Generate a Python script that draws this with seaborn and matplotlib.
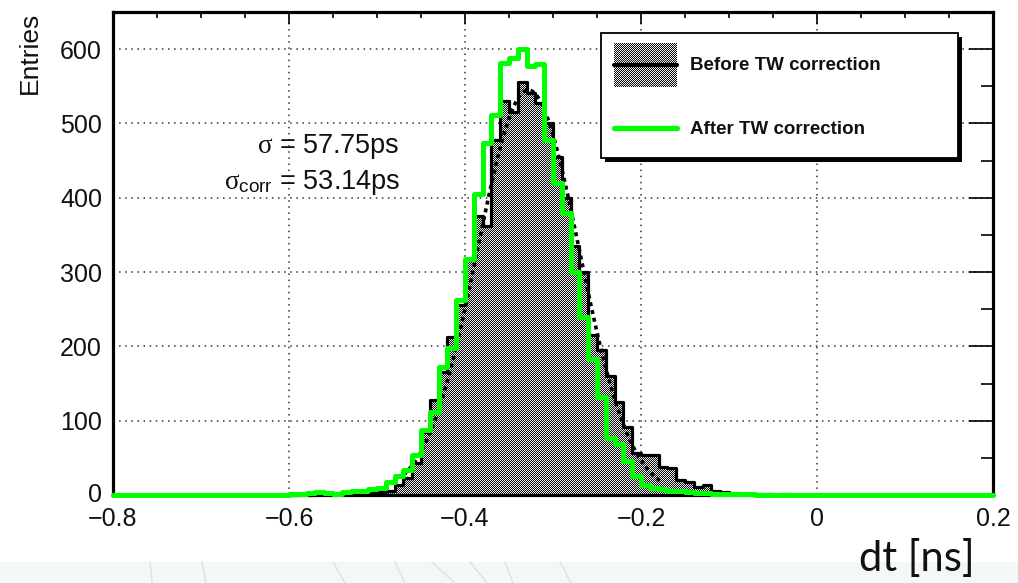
import numpy as np
import pandas as pd
import matplotlib
matplotlib.use("Agg")
import matplotlib.pyplot as plt
import matplotlib.transforms as mtransforms
import seaborn as sns
from matplotlib.colors import ListedColormap
from matplotlib.patches import Rectangle
from matplotlib.lines import Line2D
from matplotlib.ticker import MultipleLocator

# ---------------------------------------------------------------------------
# Time difference histograms, 100 bins of 10 ps between -0.8 and 0.2 ns
# ---------------------------------------------------------------------------
bin_edges = [round(v, 3) for v in np.linspace(-0.8, 0.2, 101)]
bin_centers = np.round((np.array(bin_edges[:-1]) + np.array(bin_edges[1:])) / 2, 4)

counts_before = [
    0, 0, 0, 0, 0, 0, 0, 0, 0, 0,
    0, 0, 0, 0, 0, 0, 0, 0, 0, 0,
    0, 1, 0, 1, 1, 2, 2, 3, 3, 3,
    4, 6, 13, 23, 43, 85, 128, 165, 212, 256,
    316, 375, 362, 478, 530, 516, 556, 541, 527, 500,
    455, 400, 335, 300, 215, 195, 160, 125, 92, 56,
    54, 54, 38, 36, 20, 18, 11, 14, 6, 4,
    3, 2, 1, 1, 1, 0, 1, 0, 0, 0,
    0, 0, 0, 0, 0, 0, 0, 0, 0, 0,
    0, 0, 0, 0, 0, 0, 0, 0, 0, 0,
]

counts_after = [
    0, 0, 0, 0, 0, 0, 0, 0, 0, 0,
    0, 0, 0, 0, 0, 0, 0, 0, 0, 0,
    1, 1, 3, 4, 3, 2, 4, 5, 6, 8,
    10, 17, 25, 33, 54, 87, 112, 172, 198, 262,
    318, 405, 474, 511, 582, 588, 600, 578, 580, 478,
    420, 380, 300, 240, 183, 132, 77, 68, 46, 25,
    14, 10, 8, 6, 5, 4, 3, 3, 2, 1,
    1, 1, 1, 0, 0, 0, 0, 0, 0, 0,
    0, 0, 0, 0, 0, 0, 0, 0, 0, 0,
    0, 0, 0, 0, 0, 0, 0, 0, 0, 0,
]

# Gaussian fit of the uncorrected distribution
sigma_before_ps = 57.75
sigma_after_ps = 53.14
fit_mean = -0.328
fit_amp = 545.0
fit_range = (-0.47, -0.175)

x_ticks = [-0.8, -0.6, -0.4, -0.2, 0.0, 0.2]
x_tick_labels = ["\u22120.8", "\u22120.6", "\u22120.4", "\u22120.2", "0", "0.2"]
y_ticks = [0, 100, 200, 300, 400, 500, 600]
y_tick_labels = ["0", "100", "200", "300", "400", "500", "600"]
legend_labels = ["Before TW correction", "After TW correction"]

# ---------------------------------------------------------------------------
sns.set_theme(style="white")
plt.rcParams["font.family"] = ["Liberation Sans", "DejaVu Sans"]
plt.rcParams["mathtext.fontset"] = "custom"
plt.rcParams["mathtext.rm"] = "Liberation Sans"
plt.rcParams["mathtext.it"] = "Liberation Serif"
plt.rcParams["axes.unicode_minus"] = True

W, H = 1018, 583
fig = plt.figure(figsize=(W / 100, H / 100), dpi=100)
fig.patch.set_facecolor("white")


def fx(x):
    return x / W


def fy(y):
    return 1 - y / H


ax = fig.add_axes([fx(113), fy(495), 880 / W, 483 / H])
ax.set_facecolor("white")

df_before = pd.DataFrame({"dt": bin_centers, "n": counts_before})
df_after = pd.DataFrame({"dt": bin_centers, "n": counts_after})

# Filled area of the uncorrected histogram, used as clip region for the
# checkered fill pattern
sns.histplot(data=df_before, x="dt", weights="n", bins=bin_edges,
             element="step", fill=True, linewidth=0, alpha=1,
             color="gray", ax=ax)
poly = ax.collections[-1]
fill_path = poly.get_paths()[0]
fill_trans = poly.get_transform()
poly.remove()

ny, nx = 483, 880
yy, xx = np.mgrid[0:ny, 0:nx]
checker = (xx + yy) % 2
im = ax.imshow(checker, extent=(-0.8, 0.2, 0, 650), origin="lower",
               aspect="auto", interpolation="nearest",
               cmap=ListedColormap(["#0c0c0c", "#eeeeee"]), zorder=1.5)
im.set_clip_path(fill_path, transform=fill_trans)

# Step outlines
sns.histplot(data=df_before, x="dt", weights="n", bins=bin_edges,
             element="step", fill=False, color="black", linewidth=2.3,
             ax=ax, zorder=3, clip_on=False)

xf = np.linspace(fit_range[0], fit_range[1], 400)
yf = fit_amp * np.exp(-0.5 * ((xf - fit_mean) / (sigma_before_ps / 1000)) ** 2)
ax.plot(xf, yf, color="black", linewidth=2.6, linestyle=(0, (1.1, 1.1)),
        zorder=4)

sns.histplot(data=df_after, x="dt", weights="n", bins=bin_edges,
             element="step", fill=False, color="#00ff00", linewidth=3.6,
             ax=ax, zorder=7, clip_on=False)

# Axes, ticks and grid
ax.set_xlim(-0.8, 0.2)
ax.set_ylim(0, 650)
ax.set_xticks(x_ticks, x_tick_labels)
ax.set_yticks(y_ticks, y_tick_labels)
ax.xaxis.set_minor_locator(MultipleLocator(0.05))
ax.yaxis.set_minor_locator(MultipleLocator(50))
ax.grid(True, which="major", color="#333333", linestyle=(0, (1, 3)),
        linewidth=1.1, zorder=0)
ax.set_axisbelow(True)
ax.set_xlabel("")
ax.set_ylabel("Entries", loc="top", fontsize=19, color="#111111")
ax.yaxis.set_label_coords(-(113 - 42) / 880, 1.0)

ax.tick_params(axis="both", which="both", direction="in", top=True,
               right=True, colors="black", width=1.2)
ax.tick_params(axis="y", which="major", length=17.5, labelsize=18, pad=8)
ax.tick_params(axis="y", which="minor", length=9)
ax.tick_params(axis="x", which="major", length=8.6, labelsize=18, pad=9)
ax.tick_params(axis="x", which="minor", length=4.3)
for lab in ax.get_xticklabels() + ax.get_yticklabels():
    lab.set_color("#111111")

# Lift the "0" count label a little so it clears the first dt label
zero_label = ax.yaxis.get_major_ticks()[0].label1
zero_label.set_transform(zero_label.get_transform()
                         + mtransforms.ScaledTranslation(0, 3 / 100,
                                                         fig.dpi_scale_trans))

for side, sp in ax.spines.items():
    sp.set_color("black")
    sp.set_linewidth(2.3)
    sp.set_zorder(6)

# Resolution annotations
fig.text(fx(400), fy(153), r"$\sigma$ = %.2fps" % sigma_before_ps,
         ha="right", va="baseline", fontsize=19.5, color="#111111")
fig.text(fx(400), fy(189), r"$\sigma_{\mathrm{corr}}$ = %.2fps" % sigma_after_ps,
         ha="right", va="baseline", fontsize=19.5, color="#111111")

# Legend box with drop shadow
lx0, ly0, lx1, ly1 = 601, 33, 958, 158
fig.patches.append(Rectangle((fx(lx0 + 4), fy(ly1 + 4)), (lx1 - lx0) / W,
                             (ly1 - ly0) / H, transform=fig.transFigure,
                             facecolor="black", edgecolor="none", zorder=10))
fig.patches.append(Rectangle((fx(lx0), fy(ly1)), (lx1 - lx0) / W,
                             (ly1 - ly0) / H, transform=fig.transFigure,
                             facecolor="white", edgecolor="black",
                             linewidth=1.3, zorder=11))
leg_checker = (np.mgrid[0:44, 0:63].sum(axis=0)) % 2
lim = fig.figimage(leg_checker, xo=614, yo=H - 87,
                   cmap=ListedColormap(["#0c0c0c", "#eeeeee"]), zorder=12)
fig.lines.append(Line2D([fx(614), fx(677)], [fy(65), fy(65)],
                        transform=fig.transFigure, color="black",
                        linewidth=3.0, zorder=13))
fig.lines.append(Line2D([fx(614), fx(677)], [fy(128), fy(128)],
                        transform=fig.transFigure, color="#00ff00",
                        linewidth=3.8, zorder=13))
fig.text(fx(690), fy(66), legend_labels[0], ha="left", va="center",
         fontsize=13.5, fontweight="bold", color="#111111", zorder=14)
fig.text(fx(690), fy(130), legend_labels[1], ha="left", va="center",
         fontsize=13.5, fontweight="bold", color="#111111", zorder=14)

# Slide footer band behind the axis title
fig.patches.append(Rectangle((0, 0), 1, (H - 562) / H,
                             transform=fig.transFigure,
                             facecolor="#f3f7f7", edgecolor="none", zorder=-1))
for xa, xb in [(150, 152), (202, 206), (333, 345), (395, 405), (432, 455),
               (470, 487), (505, 513), (560, 571)]:
    fig.lines.append(Line2D([fx(xa), fx(xb)], [fy(562), fy(583)],
                            transform=fig.transFigure, color="#d3e6e3",
                            linewidth=1.0, zorder=0))

fig.text(fx(975), fy(571), "dt [ns]", ha="right", va="baseline",
         fontsize=30, family=["Lato", "DejaVu Sans"], color="#111111")

fig.savefig("out.png", dpi=100)
